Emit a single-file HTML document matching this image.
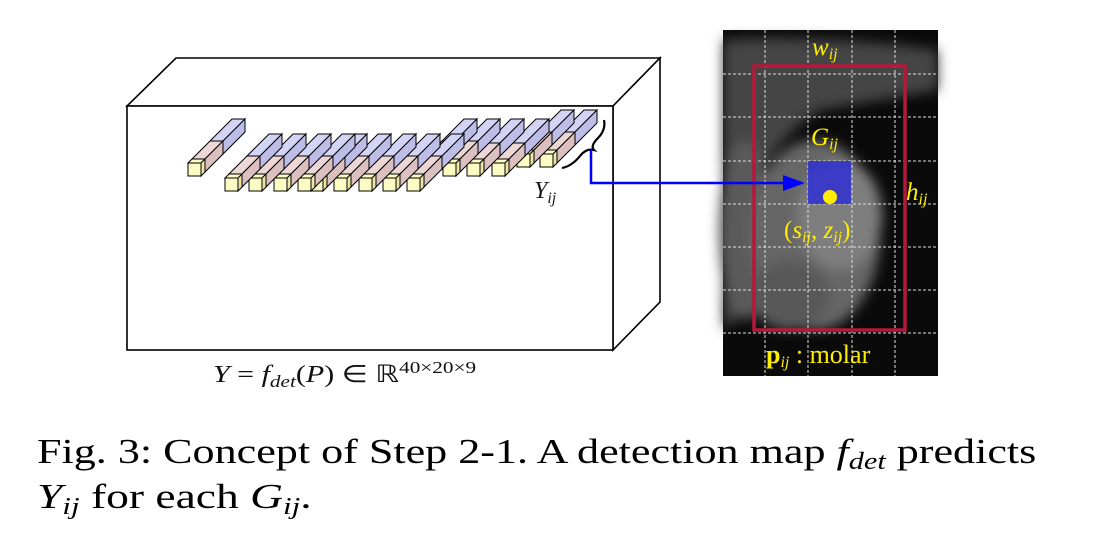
<!DOCTYPE html>
<html><head><meta charset="utf-8"><style>
html,body{margin:0;padding:0;background:#fff;width:1102px;height:560px;overflow:hidden}
text{font-family:"Liberation Serif",serif}
</style></head><body>
<svg width="1102" height="560" viewBox="0 0 1102 560" xmlns="http://www.w3.org/2000/svg">
<defs>
<filter id="bl"><feGaussianBlur stdDeviation="6"/></filter>
</defs>
<g fill="#fff" stroke="#000" stroke-width="1.6">
<polygon points="127,106 176,58 660,58 613,106"/>
<polygon points="613,106 660,58 660,302 613,350"/>
<rect x="127" y="106" width="486" height="244"/>
</g>
<g id="cols"></g>
<path d="M604,120 Q606,130 598,138 Q590,146 594,150 Q586,148 580,156 Q572,166 562,168" fill="none" stroke="#000" stroke-width="2.2"/>
<text x="534" y="198" font-size="24" font-style="italic" fill="#1a1a1a">Y<tspan font-size="16" dy="5">ij</tspan></text>
<text x="213" y="382" font-size="24" fill="#111" transform="translate(213,0) scale(1.25,1) translate(-213,0)"><tspan font-style="italic">Y</tspan> = <tspan font-style="italic">f</tspan><tspan font-size="17" dy="5" font-style="italic">det</tspan><tspan dy="-5">(</tspan><tspan font-style="italic">P</tspan>) ∈ ℝ<tspan font-size="17" dy="-9">40×20×9</tspan></text>
<g>
<rect x="723" y="30" width="215" height="346" fill="#0a0a0a"/>
<g filter="url(#bl)">
<path d="M723,40 Q800,35 900,45 L938,50 L938,90 Q880,100 820,110 Q770,140 750,200 L735,320 L723,330 Z" fill="#444"/>
<ellipse cx="745" cy="230" rx="26" ry="90" fill="#5a5a5a"/>
<ellipse cx="815" cy="235" rx="65" ry="95" fill="#666"/>
<ellipse cx="840" cy="215" rx="42" ry="55" fill="#7e7e7e"/>
<ellipse cx="790" cy="295" rx="40" ry="35" fill="#585858"/>
</g>
<g stroke="#ddd" stroke-width="1" stroke-dasharray="3,2" fill="none">
<line x1="765" y1="30" x2="765" y2="376"/><line x1="808" y1="30" x2="808" y2="376"/><line x1="852" y1="30" x2="852" y2="376"/><line x1="895" y1="30" x2="895" y2="376"/>
<line x1="723" y1="74" x2="938" y2="74"/><line x1="723" y1="117" x2="938" y2="117"/><line x1="723" y1="161" x2="938" y2="161"/><line x1="723" y1="204" x2="938" y2="204"/><line x1="723" y1="247" x2="938" y2="247"/><line x1="723" y1="290" x2="938" y2="290"/><line x1="723" y1="333" x2="938" y2="333"/>
</g>
<rect x="808" y="161" width="43" height="43" fill="#2a2ad8" fill-opacity="0.8"/>
<rect x="754" y="66" width="151" height="264" fill="none" stroke="#b5183a" stroke-width="3.5"/>
<circle cx="830" cy="197" r="7" fill="#ffee00"/>
<g fill="#ffee00" font-style="italic">
<text x="812" y="55" font-size="25">w<tspan font-size="16" dy="4">ij</tspan></text>
<text x="811" y="145" font-size="25">G<tspan font-size="16" dy="4">ij</tspan></text>
<text x="906" y="200" font-size="25">h<tspan font-size="16" dy="4">ij</tspan></text>
<text x="784" y="238" font-size="25"><tspan font-style="normal">(</tspan>s<tspan font-size="16" dy="4">ij</tspan><tspan dy="-4">, z</tspan><tspan font-size="16" dy="4">ij</tspan><tspan dy="-4" font-style="normal">)</tspan></text>
<text x="766" y="363" font-size="26" font-style="normal"><tspan font-weight="bold">p</tspan><tspan font-size="16" dy="4" font-style="italic">ij</tspan><tspan dy="-4"> : molar</tspan></text>
</g>
</g>
<g>
<polyline points="591,150 591,183 785,183" fill="none" stroke="#0000ff" stroke-width="2.5"/>
<polygon points="783,175 805,183 783,191" fill="#0000ff"/>
</g>
<text x="37" y="463" font-size="35" fill="#000" transform="translate(37,0) scale(1.26,1) translate(-37,0)">Fig. 3: Concept of Step 2-1. A detection map <tspan font-style="italic">f</tspan><tspan font-size="24" dy="6" font-style="italic">det</tspan><tspan dy="-6"> predicts</tspan></text>
<text x="37" y="508" font-size="35" fill="#000" transform="translate(37,0) scale(1.3,1) translate(-37,0)"><tspan font-style="italic">Y</tspan><tspan font-size="24" dy="6" font-style="italic">ij</tspan><tspan dy="-6"> for each </tspan><tspan font-style="italic">G</tspan><tspan font-size="24" dy="6" font-style="italic">ij</tspan><tspan dy="-6">.</tspan></text>
</svg>
<script>
// column fronts (x,y) of yellow cube, drawn back-to-front
const colX=[540,517,492,467,443,420,407,383,359,334,310,298,274,249,225,188];
const colY=[154,154,163,163,163,163,178,178,178,178,178,178,178,178,178,163];
const yLen=[4,4,4,4,4,4,4,4,4,4,4,4,4,4,4,4];
const pLen=[18,18,16,16,18,18,18,18,18,18,18,18,18,18,18,18];
const bLen=[22,22,24,24,22,22,22,22,22,22,22,22,22,22,22,22];
const g=document.getElementById('cols');
const NS='http://www.w3.org/2000/svg';
const s=13;
function poly(pts,fill){const p=document.createElementNS(NS,'polygon');p.setAttribute('points',pts.map(a=>a.join(',')).join(' '));p.setAttribute('fill',fill);p.setAttribute('stroke','#000');p.setAttribute('stroke-width','1');g.appendChild(p);return p;}
function seg(x,y,d0,d1,cf,ct,cr){
  const ox=x+d0,oy=y-d0,dx=d1-d0;
  poly([[ox,oy],[ox+dx,oy-dx],[ox+dx+s,oy-dx],[ox+s,oy]],ct);
  poly([[ox+s,oy],[ox+s+dx,oy-dx],[ox+s+dx,oy-dx+s],[ox+s,oy+s]],cr);
  poly([[ox,oy],[ox+s,oy],[ox+s,oy+s],[ox,oy+s]],cf);
}
for(let i=0;i<colX.length;i++){
  const x=colX[i],y=colY[i],a=yLen[i],b=a+pLen[i],c=b+bLen[i];
  seg(x,y,b,c,'#d4d4f6','#d4d4f6','#bdbde8');
  seg(x,y,a,b,'#ecd6d6','#ecd6d6','#dcc0c0');
  seg(x,y,0,a,'#fdfbc4','#fdfbc4','#ece9a8');
}
</script>
</body></html>
